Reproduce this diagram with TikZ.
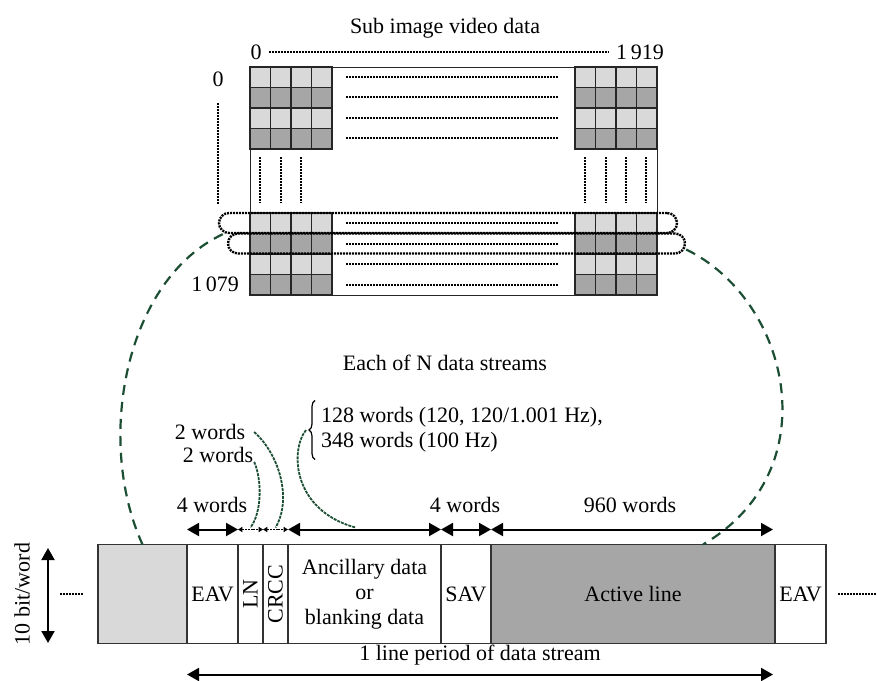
\documentclass[tikz,border=0pt]{standalone}
\usepackage{fontspec}
\setmainfont{Liberation Serif}
\usetikzlibrary{arrows.meta,positioning,decorations.pathreplacing}

\definecolor{lightcell}{RGB}{217,217,217}
\definecolor{darkcell}{RGB}{166,166,166}
\definecolor{linkgreen}{RGB}{28,78,52}

\begin{document}
\begin{tikzpicture}[
    x=0.5pt, y=-0.5pt,
    font=\fontsize{11}{12.5}\selectfont,
    cell/.style={draw=black!85, line width=0.7pt},
    dotline/.style={line width=1.2pt, dash pattern=on 1pt off 0.5pt},
    loopbox/.style={draw, line width=1.2pt, dash pattern=on 1pt off 0.5pt, rounded corners=5pt, inner sep=0pt, minimum height=10pt},
    seg/.style={rectangle, draw=black!80, line width=0.6pt, minimum height=49.5pt, inner sep=0pt, outer sep=0pt},
    dimarrow/.style={line width=1pt, {Triangle[length=6pt,width=6.5pt]}-{Triangle[length=6pt,width=6.5pt]}},
    smallarrow/.style={line width=0.6pt, dash pattern=on 1pt off 0.4pt, {Triangle[length=2.2pt,width=2.6pt]}-{Triangle[length=2.2pt,width=2.6pt]}},
    biglink/.style={draw=linkgreen, line width=1.1pt, dash pattern=on 5pt off 3.5pt},
    smalllink/.style={draw=linkgreen, line width=0.9pt, dash pattern=on 1.5pt off 0.5pt}
]
\useasboundingbox (0,0) rectangle (877,680);

% Title and pixel numbering
\node (title) at (445,28) {Sub image video data};
\node (colZero) at (256,52) {0};
\node (colLast) at (640,52) {1\,919};
\draw [dotline] (colZero) -- (colLast);
\node (rowZero) at (218,79) {0};
\draw [dotline] ([yshift=-5pt]rowZero.south) -- ++(0,101);
\node [anchor=east] (rowLast) at (246,284) {1\,079};

% Picture frame and pixel blocks
\node [draw=black!85, line width=0.6pt, anchor=north west, inner sep=0pt, minimum width=203.5pt, minimum height=114pt] (frame) at (250,67) {};
\foreach \bx in {250,575}
  \foreach \by in {67,213}
    \foreach \r/\c in {0/lightcell,1/darkcell,2/lightcell,3/darkcell}
      \foreach \k in {0,...,3}
        \draw [cell, fill=\c] ({\bx+\k*20.5},{\by+\r*20.5}) rectangle ++(20.5,20.5);
\foreach \y in {77,97,118,138,223,244,264,285}
  \draw [dotline] (346,\y) -- (559,\y);
\foreach \x in {260,281,301,585,606,626,646}
  \draw [dotline] (\x,157) -- (\x,203);

% Selected lines
\node [loopbox, minimum width=229pt] (loopA) at (448,223) {};
\node [loopbox, minimum width=228.5pt] (loopB) at (456.5,243.5) {};

\node (streams) at (445,363) {Each of N data streams};

% One line of the data stream
\node [seg, fill=lightcell, minimum width=44.5pt] (blank) at (142.5,594) {};
\node [seg, minimum width=25.5pt, right=0pt of blank] (eavA) {EAV};
\node [seg, minimum width=12.5pt, right=0pt of eavA] (ln) {\rotatebox{90}{LN}};
\node [seg, minimum width=12.5pt, right=0pt of ln] (crcc) {\rotatebox{90}{CRCC}};
\node [seg, minimum width=76.5pt, right=0pt of crcc, align=center] (anc) {Ancillary data\\or\\blanking data};
\node [seg, minimum width=25pt, right=0pt of anc] (sav) {SAV};
\node [seg, fill=darkcell, minimum width=142pt, right=0pt of sav] (active) {Active line};
\node [seg, minimum width=25.5pt, right=0pt of active] (eavB) {EAV};

\draw [dotline] ([xshift=-7.5pt]blank.west) -- ++(-24,0);
\draw [dotline] ([xshift=6pt]eavB.east) -- ++(39,0);

% Word counts
\draw [dimarrow] ([yshift=7.5pt]eavA.north west) -- ([yshift=7.5pt]eavA.north east);
\draw [smallarrow] ([yshift=7.5pt]ln.north west) -- ([yshift=7.5pt]ln.north east);
\draw [smallarrow] ([yshift=7.5pt]crcc.north west) -- ([yshift=7.5pt]crcc.north east);
\draw [dimarrow] ([yshift=7.5pt]anc.north west) -- ([yshift=7.5pt]anc.north east);
\draw [dimarrow] ([yshift=7.5pt]sav.north west) -- ([yshift=7.5pt]sav.north east);
\draw [dimarrow] ([yshift=7.5pt]active.north west) -- ([xshift=-1pt,yshift=7.5pt]active.north east);

\node (eavWords) at (212,505) {4 words};
\node (savWords) at (465,505) {4 words};
\node (activeWords) at (630,505) {960 words};
\node (crccWords) at (210,432) {2 words};
\node (lnWords) at (218,455) {2 words};
\node [anchor=west, align=left] (ancWords) at (314,430) {128 words (120, 120/1.001 Hz),\\348 words (100 Hz)};
\draw [decorate, decoration={brace, mirror, amplitude=3pt}, line width=0.6pt] ([xshift=0.5pt]ancWords.north west) -- ([xshift=0.5pt]ancWords.south west);

\draw [smalllink] ([xshift=1pt]crccWords.east) .. controls (280,455) and (292,500) .. ([yshift=8.5pt]crcc.north);
\draw [smalllink] ([xshift=-3pt,yshift=4pt]lnWords.south east) .. controls (262,480) and (262,512) .. ([yshift=8.5pt]ln.north);
\draw [smalllink] ([xshift=-4pt]ancWords.west) .. controls (290,450) and (292,510) .. ([xshift=-4.5pt,yshift=8.5pt]anc.north);

% Line period and word size
\draw [dimarrow] ([yshift=-15.5pt]eavA.south west) -- node [above=1pt] (period) {1 line period of data stream} ([xshift=-1pt,yshift=-15.5pt]active.south east);
\coordinate (bitTop) at (48,548);
\coordinate (bitBot) at (48,643);
\draw [dimarrow] (bitTop) -- (bitBot);
\node [rotate=90] (bitLabel) at (22,594) {10 bit/word};

% Links from the selected lines to the stream
\draw [biglink] ([xshift=2.5pt]loopA.south west) .. controls (125,280) and (95,440) .. (blank.north);
\draw [biglink] ([yshift=-3pt]loopB.east) .. controls (790,300) and (830,470) .. ([xshift=35pt]active.north);

\end{tikzpicture}
\end{document}
